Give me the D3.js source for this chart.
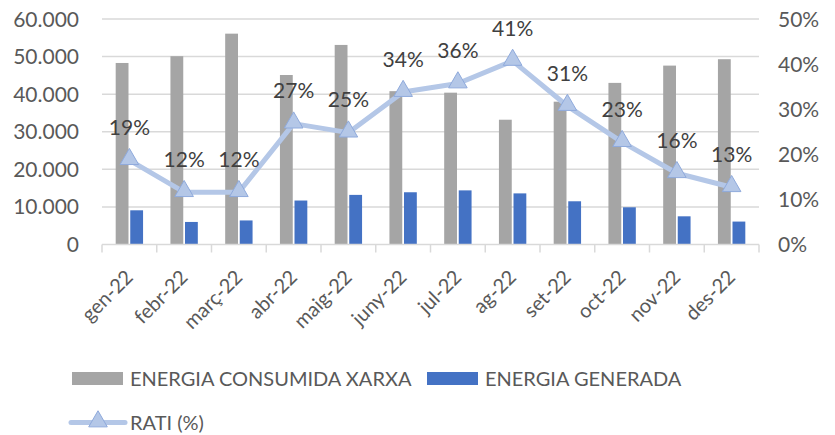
<!DOCTYPE html>
<html>
<head>
<meta charset="utf-8">
<script src="https://cdn.jsdelivr.net/npm/d3@7"></script>
<style>
  body { margin: 0; background: #fff; }
  text { font-family: Lato, "Liberation Sans", sans-serif; }
</style>
</head>
<body>
<div id="chart"></div>
<script>
// data
const months = ["gen-22", "febr-22", "març-22", "abr-22", "maig-22", "juny-22",
                "jul-22", "ag-22", "set-22", "oct-22", "nov-22", "des-22"];
const consumida = [48300, 50100, 56100, 45100, 53100, 40800, 40400, 33200, 38000, 43000, 47600, 49300];
const generada = [9100, 6000, 6400, 11700, 13200, 13900, 14400, 13600, 11500, 9900, 7500, 6100];
const rati = [0.187, 0.116, 0.116, 0.268, 0.248, 0.338, 0.357, 0.407, 0.307, 0.227, 0.158, 0.127];
const leftTicks = [0, 10000, 20000, 30000, 40000, 50000, 60000];
const rightTicks = [0, 0.1, 0.2, 0.3, 0.4, 0.5];

const W = 835, H = 435;
const plotL = 102, plotR = 759, plotT = 19, plotB = 244.5;

const svg = d3.select("#chart").append("svg")
    .attr("width", W).attr("height", H);

const x = d3.scaleBand().domain(months).range([plotL, plotR]);
const x1 = d3.scaleBand().domain(["c", "g"])
    .range([x.bandwidth() * 0.25, x.bandwidth() * 0.75])
    .paddingInner(0.12);
const y = d3.scaleLinear().domain([0, 60000]).range([plotB, plotT]);
const y2 = d3.scaleLinear().domain([0, 0.5]).range([plotB, plotT]);

const fmtK = d3.formatLocale({decimal: ",", thousands: ".", grouping: [3]}).format(",");

// gridlines
svg.append("g").selectAll("line")
    .data(leftTicks.slice(1))
    .enter().append("line")
    .attr("x1", plotL).attr("x2", plotR)
    .attr("y1", d => y(d)).attr("y2", d => y(d))
    .attr("stroke", "#d9d9d9").attr("stroke-width", 1.5);

// left axis labels
svg.append("g").selectAll("text")
    .data(leftTicks)
    .enter().append("text")
    .attr("x", 79).attr("y", d => y(d))
    .attr("dy", "0.36em")
    .attr("text-anchor", "end")
    .style("font-size", "21px").style("fill", "#595959")
    .text(d => fmtK(d));

// right axis labels
svg.append("g").selectAll("text")
    .data(rightTicks)
    .enter().append("text")
    .attr("x", 778).attr("y", d => y2(d))
    .attr("dy", "0.36em")
    .attr("text-anchor", "start")
    .style("font-size", "21px").style("fill", "#595959")
    .text(d => d3.format(".0%")(d));

// bars
const groups = svg.append("g").selectAll("g")
    .data(months)
    .enter().append("g")
    .attr("transform", d => "translate(" + x(d) + ",0)");

groups.append("rect")
    .attr("x", x1("c"))
    .attr("y", (d, i) => y(consumida[i]))
    .attr("width", x1.bandwidth())
    .attr("height", (d, i) => y(0) - y(consumida[i]))
    .attr("fill", "#a5a5a5");

groups.append("rect")
    .attr("x", x1("g"))
    .attr("y", (d, i) => y(generada[i]))
    .attr("width", x1.bandwidth())
    .attr("height", (d, i) => y(0) - y(generada[i]))
    .attr("fill", "#4472c4");

// x axis
const xAxis = svg.append("g")
    .attr("transform", "translate(0," + plotB + ")");
xAxis.append("line")
    .attr("x1", plotL).attr("x2", plotR)
    .attr("stroke", "#d9d9d9").attr("stroke-width", 1.5);
xAxis.selectAll("line.tk")
    .data(months.concat(["end"]))
    .enter().append("line")
    .attr("class", "tk")
    .attr("x1", d => d === "end" ? plotR : x(d))
    .attr("x2", d => d === "end" ? plotR : x(d))
    .attr("y1", 0).attr("y2", 8)
    .attr("stroke", "#d9d9d9").attr("stroke-width", 1.5);
xAxis.selectAll("text")
    .data(months)
    .enter().append("text")
    .attr("transform", d => "translate(" + (x(d) + x.bandwidth() / 2) + ",29)rotate(-45)")
    .attr("text-anchor", "end")
    .attr("dy", "0.35em")
    .style("font-size", "20px").style("fill", "#595959")
    .text(d => d);

// ratio line
const cx = d => x(d) + x.bandwidth() / 2;
const line = d3.line()
    .x((d, i) => cx(months[i]))
    .y(d => y2(d));

svg.append("path")
    .datum(rati)
    .attr("d", line)
    .attr("fill", "none")
    .attr("stroke", "#b4c7e7")
    .attr("stroke-width", 5)
    .attr("stroke-linejoin", "round");

const tri = d3.symbol().type(d3.symbolTriangle).size(150);
svg.append("g").selectAll("path")
    .data(rati)
    .enter().append("path")
    .attr("d", tri)
    .attr("transform", (d, i) => "translate(" + cx(months[i]) + "," + (y2(d) - 1) + ")")
    .attr("fill", "#b4c7e7")
    .attr("stroke", "#8faadc")
    .attr("stroke-width", 1);

svg.append("g").selectAll("text")
    .data(rati)
    .enter().append("text")
    .attr("x", (d, i) => cx(months[i]))
    .attr("y", d => y2(d) - 33)
    .attr("dy", "0.36em")
    .attr("text-anchor", "middle")
    .style("font-size", "21px").style("fill", "#404040")
    .text(d => d3.format(".0%")(d));

// legend
const legend = svg.append("g");
legend.append("rect").attr("x", 72).attr("y", 372).attr("width", 51).attr("height", 13).attr("fill", "#a5a5a5");
legend.append("text").attr("x", 130).attr("y", 378.5).attr("dy", "0.36em")
    .style("font-size", "20px").style("fill", "#595959").text("ENERGIA CONSUMIDA XARXA");
legend.append("rect").attr("x", 427).attr("y", 372).attr("width", 51).attr("height", 13).attr("fill", "#4472c4");
legend.append("text").attr("x", 485).attr("y", 378.5).attr("dy", "0.36em")
    .style("font-size", "20px").style("fill", "#595959").text("ENERGIA GENERADA");

legend.append("line").attr("x1", 71).attr("x2", 125).attr("y1", 422.5).attr("y2", 422.5)
    .attr("stroke", "#b4c7e7").attr("stroke-width", 5).attr("stroke-linecap", "round");
legend.append("path").attr("d", tri)
    .attr("transform", "translate(98,421.5)")
    .attr("fill", "#b4c7e7").attr("stroke", "#8faadc").attr("stroke-width", 1);
legend.append("text").attr("x", 130).attr("y", 422.5).attr("dy", "0.36em")
    .style("font-size", "20px").style("fill", "#595959").text("RATI (%)");
</script>
</body>
</html>
